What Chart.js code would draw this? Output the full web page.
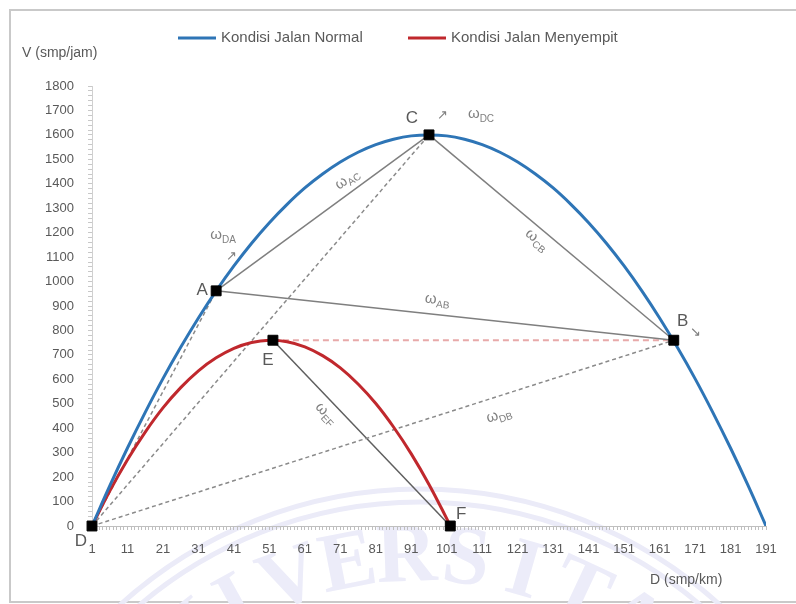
<!DOCTYPE html>
<html lang="id">
<head>
<meta charset="UTF-8">
<title>Kondisi Jalan Normal vs Menyempit</title>
<script src="https://cdn.jsdelivr.net/npm/chart.js"></script>
<style>
    body { margin: 0; background: #fff; }
    #frame { position: absolute; left: 9px; top: 9px; width: 800px; height: 590px; border: 2px solid #c9c9c9; border-right: none; }
    #wrap { position: absolute; left: 0; top: 0; width: 796px; height: 604px; }
</style>
</head>
<body>
<div id="frame"></div>
<div id="wrap"><canvas id="chart"></canvas></div>
<script>
// kurva kondisi jalan normal (D, V)
const dNormal = [1, 6, 11, 16, 21, 26, 31, 36, 41, 46, 51, 56, 61, 66, 71, 76, 81, 86, 91, 96,
                 101, 106, 111, 116, 121, 126, 131, 136, 141, 146, 151, 156, 161, 166, 171, 176, 181, 186, 191];
const vNormal = [0, 164, 319, 465, 603, 731, 851, 962, 1064, 1157, 1241, 1316, 1383, 1440, 1489, 1529, 1560, 1582, 1596, 1600,
                 1596, 1582, 1560, 1529, 1489, 1440, 1383, 1316, 1241, 1157, 1064, 962, 851, 731, 603, 465, 319, 164, 0];

// kurva kondisi jalan menyempit
const dSempit = [1, 6, 11, 16, 21, 26, 31, 36, 41, 46, 51, 56, 61, 66, 71, 76, 81, 86, 91, 96, 101, 102];
const vSempit = [0, 143, 271, 384, 483, 566, 635, 688, 727, 751, 760, 754, 733, 697, 647, 581, 501, 405, 295, 170, 30, 0];

// titik-titik
const pointNames = ['D', 'A', 'C', 'B', 'E', 'F'];
const pointD = [1, 36, 96, 165, 52, 102];
const pointV = [0, 962, 1600, 760, 760, 0];

// garis antar titik
const segments = [['D', 'A'], ['D', 'C'], ['D', 'B'], ['A', 'C'], ['A', 'B'], ['C', 'B'], ['E', 'F'], ['E', 'B']];

// label sumbu
const xTicks = [1, 11, 21, 31, 41, 51, 61, 71, 81, 91, 101, 111, 121, 131, 141, 151, 161, 171, 181, 191];
const yTicks = [0, 100, 200, 300, 400, 500, 600, 700, 800, 900, 1000, 1100, 1200, 1300, 1400, 1500, 1600, 1700, 1800];

const FONT = '"Liberation Sans", Arial, sans-serif';
const GREY = '#595959';

const segStyle = {
    dashed: { borderColor: '#8a8a8a', borderWidth: 1.5, borderDash: [4, 3] },
    solid: { borderColor: '#7f7f7f', borderWidth: 1.5, borderDash: [] },
    dark: { borderColor: '#5f5f5f', borderWidth: 1.5, borderDash: [] },
    red: { borderColor: '#e8a9a9', borderWidth: 2, borderDash: [6, 4] }
};
const segKind = { DA: 'dashed', DC: 'dashed', DB: 'dashed', AC: 'solid', AB: 'solid', CB: 'solid', EF: 'dark', EB: 'red' };

function pt(name) {
    const i = pointNames.indexOf(name);
    return { x: pointD[i], y: pointV[i] };
}

// tick minor (tiap kategori di sumbu x, tiap 20 di sumbu y)
const xAll = [];
for (let v = 1; v <= 191; v++) xAll.push(v);
const yAll = [];
for (let v = 0; v <= 1800; v += 20) yAll.push(v);

const datasets = [];
datasets.push({
    label: 'titik',
    data: pointNames.map(pt),
    showLine: false,
    pointStyle: 'rect',
    pointRadius: 7,
    pointBackgroundColor: '#000',
    pointBorderColor: '#000',
    clip: false,
    order: 0
});
datasets.push({
    label: 'Kondisi Jalan Normal',
    data: dNormal.map((d, i) => ({ x: d, y: vNormal[i] })),
    showLine: true,
    borderColor: '#2E75B6',
    borderWidth: 3,
    pointRadius: 0,
    tension: 0.4,
    order: 1
});
datasets.push({
    label: 'Kondisi Jalan Menyempit',
    data: dSempit.map((d, i) => ({ x: d, y: vSempit[i] })),
    showLine: true,
    borderColor: '#C0282D',
    borderWidth: 3,
    pointRadius: 0,
    tension: 0.4,
    order: 2
});
segments.forEach(([a, b], k) => {
    const st = segStyle[segKind[a + b]];
    datasets.push({
        label: 'seg' + a + b,
        data: [pt(a), pt(b)],
        showLine: true,
        borderColor: st.borderColor,
        borderWidth: st.borderWidth,
        borderDash: st.borderDash,
        pointRadius: 0,
        order: 3 + k
    });
});

// label omega: [segmen, posisi t, jarak normal]
const omegaLabels = [['A', 'C', 0.65, 11], ['C', 'B', 0.47, -13], ['A', 'B', 0.48, 13], ['E', 'F', 0.35, -14], ['D', 'B', 0.69, -20]];

function drawOmega(ctx, sub, x, y, rot) {
    ctx.save();
    ctx.translate(x, y);
    ctx.rotate(rot);
    ctx.fillStyle = '#7f7f7f';
    ctx.textBaseline = 'middle';
    ctx.textAlign = 'left';
    ctx.font = '15px ' + FONT;
    const w1 = ctx.measureText('ω').width;
    ctx.font = '10px ' + FONT;
    const w2 = ctx.measureText(sub).width;
    const x0 = -(w1 + w2) / 2;
    ctx.font = '15px ' + FONT;
    ctx.fillText('ω', x0, -2);
    ctx.font = '10px ' + FONT;
    ctx.fillText(sub, x0 + w1, 3);
    ctx.restore();
}

const annotPlugin = {
    id: 'annot',
    beforeDraw(chart) {
        // watermark logo
        const ctx = chart.ctx;
        const cx = 420, cy = 935;
        ctx.save();
        ctx.strokeStyle = '#ebebf8';
        ctx.lineWidth = 5;
        [446, 433].forEach(r => {
            ctx.beginPath();
            ctx.arc(cx, cy, r, Math.PI, 2 * Math.PI);
            ctx.stroke();
        });
        ctx.fillStyle = '#ececf9';
        ctx.font = 'bold 84px "Liberation Serif", serif';
        ctx.textAlign = 'center';
        ctx.textBaseline = 'top';
        const word = 'UNIVERSITAS';
        for (let i = 0; i < word.length; i++) {
            const a = (-47 + i * 9.0) * Math.PI / 180;
            ctx.save();
            ctx.translate(cx, cy);
            ctx.rotate(a);
            ctx.fillText(word[i], 0, -418);
            ctx.restore();
        }
        ctx.restore();
    },
    afterDatasetsDraw(chart) {
        const ctx = chart.ctx;
        const xs = chart.scales.x, ys = chart.scales.y;
        const P = n => { const p = pt(n); return { x: xs.getPixelForValue(p.x), y: ys.getPixelForValue(p.y) }; };

        ctx.save();
        // huruf titik
        ctx.fillStyle = GREY;
        ctx.font = '17px ' + FONT;
        ctx.textBaseline = 'middle';
        ctx.textAlign = 'center';
        const letterOff = { D: [-11, 15], A: [-14, -1], C: [-17, -17], B: [9, -19], E: [-5, 20], F: [11, -12] };
        pointNames.forEach(n => {
            const p = P(n);
            ctx.fillText(n, p.x + letterOff[n][0], p.y + letterOff[n][1]);
        });

        // panah kecil
        ctx.font = '13px ' + FONT;
        ctx.fillStyle = '#7f7f7f';
        const c = P('C'), a = P('A'), b = P('B');
        ctx.fillText('↗', c.x + 13, c.y - 19);
        ctx.fillText('↗', a.x + 15, a.y - 34);
        ctx.fillText('↘', b.x + 22, b.y - 8);
        ctx.restore();

        drawOmega(ctx, 'DC', c.x + 52, c.y - 19, 0);
        drawOmega(ctx, 'DA', a.x + 7, a.y - 54, 0);

        omegaLabels.forEach(([s, e, t, n]) => {
            const p1 = P(s), p2 = P(e);
            const dx = p2.x - p1.x, dy = p2.y - p1.y;
            const len = Math.hypot(dx, dy);
            const ux = dx / len, uy = dy / len;
            const x = p1.x + dx * t + uy * n;
            const y = p1.y + dy * t - ux * n;
            drawOmega(ctx, s + e, x, y, Math.atan2(dy, dx));
        });

        // legenda
        ctx.save();
        ctx.lineWidth = 3;
        ctx.font = '15px ' + FONT;
        ctx.fillStyle = GREY;
        ctx.textBaseline = 'middle';
        ctx.textAlign = 'left';
        const legendItems = [[datasets[1], 178], [datasets[2], 408]];
        legendItems.forEach(([ds, x0]) => {
            ctx.strokeStyle = ds.borderColor;
            ctx.beginPath();
            ctx.moveTo(x0, 38);
            ctx.lineTo(x0 + 38, 38);
            ctx.stroke();
            ctx.fillText(ds.label, x0 + 43, 38);
        });

        // judul sumbu
        ctx.font = '14px ' + FONT;
        ctx.fillText('V (smp/jam)', 22, 53);
        ctx.fillText('D (smp/km)', 650, 580);
        ctx.restore();
    }
};

new Chart(document.getElementById('chart'), {
    type: 'scatter',
    data: { datasets: datasets },
    plugins: [annotPlugin],
    options: {
        responsive: true,
        maintainAspectRatio: false,
        animation: false,
        layout: { padding: { top: 86, right: 30, bottom: 0, left: 0 } },
        plugins: { legend: { display: false }, tooltip: { enabled: false } },
        scales: {
            x: {
                type: 'linear',
                min: 1,
                max: 191,
                afterBuildTicks: s => { s.ticks = xAll.map(v => ({ value: v })); },
                afterFit: s => { s.height = 78; },
                ticks: {
                    autoSkip: false,
                    maxRotation: 0,
                    minRotation: 0,
                    padding: 12,
                    color: GREY,
                    font: { family: FONT, size: 13 },
                    callback: v => xTicks.includes(v) ? String(v) : ''
                },
                grid: { drawOnChartArea: false, drawTicks: true, tickLength: 4, color: '#bfbfbf' },
                border: { display: true, color: '#bfbfbf' }
            },
            y: {
                min: 0,
                max: 1800,
                afterBuildTicks: s => { s.ticks = yAll.map(v => ({ value: v })); },
                afterFit: s => { s.width = 92; },
                ticks: {
                    autoSkip: false,
                    padding: 14,
                    color: GREY,
                    font: { family: FONT, size: 13 },
                    callback: v => yTicks.includes(v) ? String(v) : ''
                },
                grid: { drawOnChartArea: false, drawTicks: true, tickLength: 4, color: '#c8c8c8' },
                border: { display: true, color: '#d0d0d0' }
            }
        }
    }
});
</script>
</body>
</html>
